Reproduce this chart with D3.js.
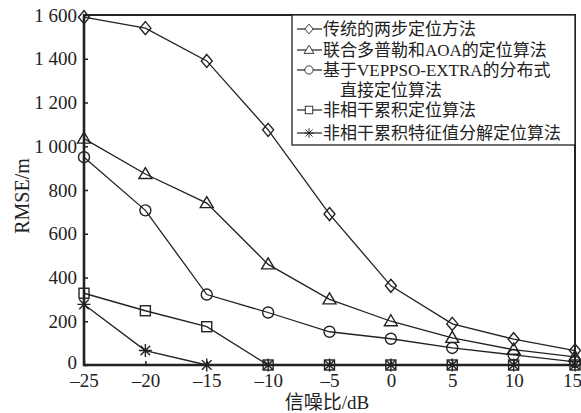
<!DOCTYPE html>
<html>
<head>
<meta charset="utf-8">
<script src="https://cdn.jsdelivr.net/npm/d3@7"></script>
<style>
  body { margin: 0; background: #fff; }
  svg text { font-family: "Liberation Serif", "Noto Sans CJK SC", serif; fill: #222; }
</style>
</head>
<body>
<script>
const snr = [-25, -20, -15, -10, -5, 0, 5, 10, 15];
const twoStep = [1590, 1540, 1390, 1075, 690, 362, 188, 118, 66];
const dopplerAoa = [1035, 873, 740, 460, 300, 200, 124, 70, 37];
const veppso = [950, 707, 322, 240, 152, 120, 78, 46, 14];
const noncoherent = [328, 248, 175, 0, 0, 0, 0, 0, 0];
const eigen = [277, 66, 0, 0, 0, 0, 0, 0, 0];
const seriesNames = ['传统的两步定位方法', '联合多普勒和AOA的定位算法', '基于VEPPSO-EXTRA的分布式', '非相干累积定位算法', '非相干累积特征值分解定位算法'];
const xTicks = [-25, -20, -15, -10, -5, 0, 5, 10, 15];
const yTicks = [0, 200, 400, 600, 800, 1000, 1200, 1400, 1600];

const width = 581, height = 413;
const margin = { top: 15, right: 6, bottom: 48, left: 84 };

const svg = d3.select('body').append('svg')
  .attr('width', width)
  .attr('height', height);

const x = d3.scaleLinear().domain([-25, 15]).range([margin.left, width - margin.right]);
const y = d3.scaleLinear().domain([0, 1600]).range([height - margin.bottom, margin.top]);

const fmt = d => d >= 1000 ? Math.floor(d / 1000) + ' ' + String(d % 1000).padStart(3, '0') : String(d);

// frame
svg.append('rect')
  .attr('x', margin.left).attr('y', margin.top)
  .attr('width', width - margin.right - margin.left)
  .attr('height', height - margin.bottom - margin.top)
  .attr('fill', 'none').attr('stroke', '#222').attr('stroke-width', 2);
svg.append('path')
  .attr('d', `M${margin.left},${margin.top}V${height - margin.bottom}H${width - margin.right}`)
  .attr('fill', 'none').attr('stroke', '#222').attr('stroke-width', 2.6);

const xAxis = svg.append('g')
  .attr('transform', `translate(0,${height - margin.bottom})`)
  .call(d3.axisBottom(x).tickValues(xTicks).tickSize(-4).tickPadding(9)
    .tickFormat(d => d < 0 ? '\u2013' + Math.abs(d) : d));
const yAxis = svg.append('g')
  .attr('transform', `translate(${margin.left},0)`)
  .call(d3.axisLeft(y).tickValues(yTicks).tickSize(-4).tickPadding(7).tickFormat(fmt));
[xAxis, yAxis].forEach(a => {
  a.select('.domain').remove();
  a.selectAll('line').attr('stroke', '#222').attr('stroke-width', 1.5);
  a.selectAll('text').style('font-size', '19px').attr('fill', '#222');
});
xAxis.selectAll('text').filter(d => d === 15).attr('dx', '-3');
yAxis.selectAll('text').filter(d => d === 0).attr('dy', '0.2em');

svg.append('text')
  .attr('transform', 'translate(29,196) rotate(-90)')
  .attr('text-anchor', 'middle')
  .style('font-size', '20px')
  .text('RMSE/m');

svg.append('text')
  .attr('x', 327).attr('y', 409)
  .attr('text-anchor', 'middle')
  .style('font-size', '19px')
  .text('信噪比/dB');

// markers
const sym = {
  diamond: (g) => g.append('path').attr('d', 'M0,-6.5L5.5,0L0,6.5L-5.5,0Z'),
  triangle: (g) => g.append('path').attr('d', 'M0,-6.5L6.5,4.5L-6.5,4.5Z'),
  circle: (g) => g.append('circle').attr('r', 5.5),
  square: (g) => g.append('rect').attr('x', -5).attr('y', -5).attr('width', 10).attr('height', 10),
  star: (g) => g.append('path').attr('d', 'M0,-6.5V6.5M-6.5,0H6.5M-4.8,-4.8L4.8,4.8M-4.8,4.8L4.8,-4.8')
};

const series = [
  { name: seriesNames[0], values: twoStep, marker: 'diamond' },
  { name: seriesNames[1], values: dopplerAoa, marker: 'triangle' },
  { name: seriesNames[2], values: veppso, marker: 'circle' },
  { name: seriesNames[3], values: noncoherent, marker: 'square' },
  { name: seriesNames[4], values: eigen, marker: 'star' }
];

const line = d3.line().x((d, i) => x(snr[i])).y(d => y(d));

series.forEach(s => {
  svg.append('path')
    .attr('d', line(s.values))
    .attr('fill', 'none').attr('stroke', '#222').attr('stroke-width', 1.3);
  s.values.forEach((v, i) => {
    const g = svg.append('g').attr('transform', `translate(${x(snr[i])},${y(v)})`);
    sym[s.marker](g).attr('fill', 'none').attr('stroke', '#222').attr('stroke-width', 1.4);
  });
});

// legend
const lg = svg.append('g').attr('transform', 'translate(292,15)');
lg.append('rect')
  .attr('width', 283).attr('height', 130)
  .attr('fill', '#fff').attr('stroke', '#222').attr('stroke-width', 1.3);
const rowY = [14, 35, 55, 95, 118];
series.forEach((s, i) => {
  const r = lg.append('g').attr('transform', `translate(0,${rowY[i]})`);
  r.append('line').attr('x1', 5).attr('x2', 30).attr('stroke', '#222').attr('stroke-width', 1.2);
  const m = r.append('g').attr('transform', 'translate(17,0)');
  sym[s.marker](m).attr('fill', '#fff').attr('stroke', '#222').attr('stroke-width', 1.2)
    .attr('transform', 'scale(0.75)');
  r.append('text').attr('x', 31).attr('y', 6).style('font-size', '17px').text(s.name);
});
lg.append('text').attr('x', 31).attr('y', 81).style('font-size', '17px').text('\u3000直接定位算法');
</script>
</body>
</html>
